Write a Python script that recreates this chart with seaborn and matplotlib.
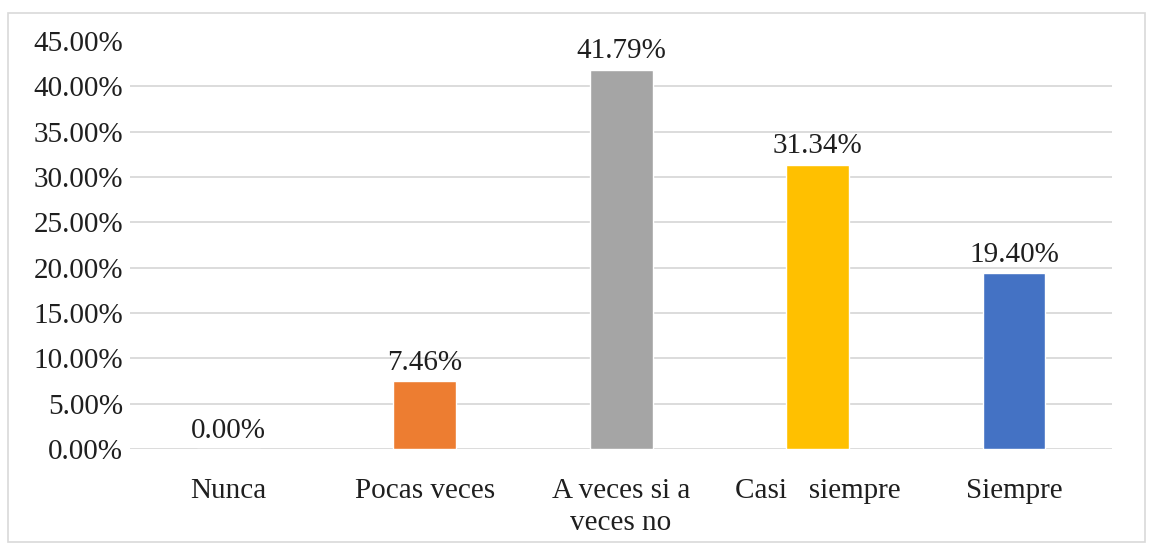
import pandas as pd
import matplotlib.pyplot as plt
import seaborn as sns
from matplotlib.patches import Rectangle

# datos de la encuesta
categorias = ['Nunca', 'Pocas veces', 'A veces si a\nveces no', 'Casi   siempre', 'Siempre']
porcentajes = [0.00, 7.46, 41.79, 31.34, 19.40]
colores = ['#5B9BD5', '#ED7D31', '#A5A5A5', '#FFC000', '#4472C4']
ticks_y = [0, 5, 10, 15, 20, 25, 30, 35, 40, 45]

df = pd.DataFrame({'Categoria': categorias, 'Porcentaje': porcentajes})

sns.set_theme(style="white")
plt.rcParams['font.family'] = ['Liberation Serif', 'DejaVu Serif']

fig = plt.figure(figsize=(11.53, 5.45), dpi=100)
ax = fig.add_axes([0.1127, 0.176, 0.852, 0.749])

sns.barplot(data=df, x='Categoria', y='Porcentaje', hue='Categoria',
            palette=colores, width=0.32, legend=False, ax=ax, saturation=1)

texto = '#1f1f1f'
for barra, val in zip(ax.patches, porcentajes):
    ax.annotate(f'{val:.2f}%', (barra.get_x() + barra.get_width() / 2, barra.get_height()),
                xytext=(0, 4), textcoords='offset points', ha='center', va='bottom',
                fontsize=21, color=texto)

ax.set_ylim(0, 45)
ax.set_yticks(ticks_y)
ax.set_yticklabels([f'{t:.2f}%' for t in ticks_y], fontsize=21, color=texto)
ax.set_xticks(range(len(categorias)))
ax.set_xticklabels(categorias, fontsize=21, color=texto, linespacing=1.3)
ax.tick_params(axis='x', pad=21, length=0)
ax.tick_params(axis='y', pad=5, length=0)
ax.set_xlabel('')
ax.set_ylabel('')

# lineas de cuadricula de 0 a 40
for t in ticks_y[:-1]:
    ax.axhline(t, color='#D9D9D9', lw=1.3, zorder=0)

for s in ax.spines.values():
    s.set_visible(False)

# borde del grafico
fig.patches.append(Rectangle((0.007, 0.005), 0.986, 0.972, transform=fig.transFigure,
                             fill=False, edgecolor='#D9D9D9', lw=1.2))

plt.savefig('out.png', dpi=100)
